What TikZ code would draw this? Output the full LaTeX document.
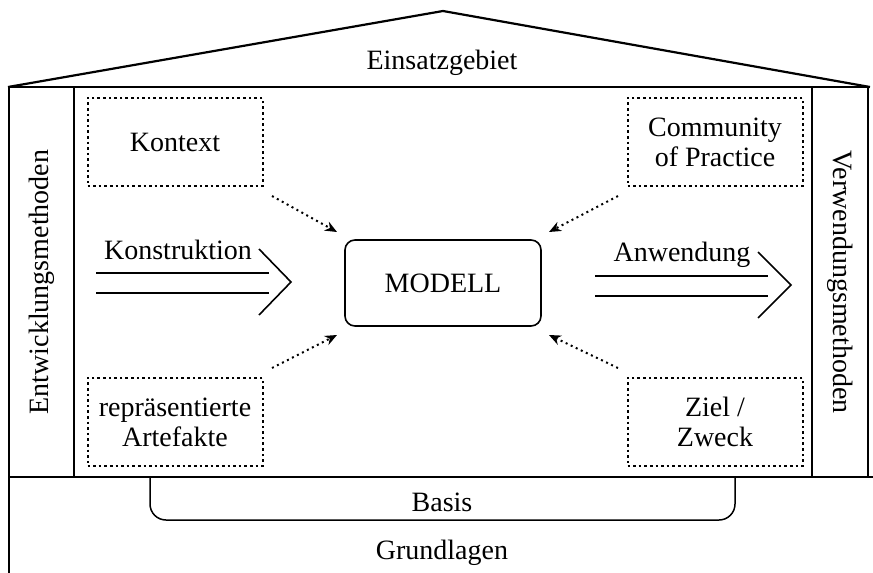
\documentclass[tikz,border=0pt]{standalone}
\usepackage{fontspec}
\setmainfont{Liberation Serif}
\usetikzlibrary{arrows.meta}
\begin{document}
\begin{tikzpicture}[x=0.5pt,y=-0.5pt,
  every node/.style={font=\fontsize{14}{15}\selectfont},
  wall/.style={line width=0.75pt},
  heavy/.style={line width=1.1pt},
  dbox/.style={draw, dash pattern=on 1.3pt off 1.5pt, line width=1pt, minimum width=87.5pt, minimum height=44pt, align=center, inner sep=0pt},
  darrow/.style={dash pattern=on 1pt off 1.8pt, line width=1pt, -{Stealth[length=6pt,width=5pt]}},
  dline/.style={line width=0.8pt},
  model/.style={draw, rounded corners=5pt, line width=0.8pt, minimum width=98pt, minimum height=43pt}]
\useasboundingbox (0,0) rectangle (873,573);

% roof
\coordinate (rl) at (8,87);
\coordinate (ra) at (443,11);
\coordinate (rr) at (870,87);
\draw[heavy, line join=miter] (rl) -- (ra) -- (rr);
\node (einsatz) at (442,63) {Einsatzgebiet};

% house
\draw[heavy] (9,87) -- (868,87);
\draw[wall] (9,87) -- (9,573);
\draw[wall] (868,87) -- (868,477);
\draw[wall] (74,87) -- (74,477);
\draw[wall] (812,87) -- (812,477);
\draw[heavy] (9,477) -- (873,477);

\node[rotate=90] (entw) at (42,282) {Entwicklungsmethoden};
\node[rotate=-90] (verw) at (840,282) {Verwendungsmethoden};

% basis bracket
\draw[wall, rounded corners=8pt] (150,477) -- (150,520) -- (735,520) -- (735,477);
\node (basis) at (442,502) {Basis};
\node (grund) at (442,553) {Grundlagen};

% boxes
\node[dbox] (kontext) at (175,142) {Kontext};
\node[dbox] (cop) at (715,142) {Community\\of Practice};
\node[dbox] (artefakte) at (175,422) {repräsentierte\\Artefakte};
\node[dbox] (ziel) at (715,422) {Ziel /\\Zweck};

\node[model] (modell) at (443,283) {MODELL};

% dotted arrows
\coordinate (a1) at (272,196);
\coordinate (a2) at (618,196);
\coordinate (a3) at (272,368);
\coordinate (a4) at (618,368);
\draw[darrow] (a1) -- (337,232);
\draw[darrow] (a2) -- (549,232);
\draw[darrow] (a3) -- (337,335);
\draw[darrow] (a4) -- (549,335);

% Konstruktion double arrow
\coordinate (k1) at (96,273);
\coordinate (k2) at (96,293);
\draw[dline] (k1) -- (269,273);
\draw[dline] (k2) -- (269,293);
\draw[dline] (259,249) -- (291,282) -- (259,315);
\node[anchor=base] (konstr) at (178,259) {Konstruktion};

% Anwendung double arrow
\coordinate (w1) at (595,276);
\coordinate (w2) at (595,296);
\draw[dline] (w1) -- (768,276);
\draw[dline] (w2) -- (768,296);
\draw[dline] (758,252) -- (791,285) -- (758,318);
\node[anchor=base] (anw) at (682,261) {Anwendung};
\end{tikzpicture}
\end{document}
